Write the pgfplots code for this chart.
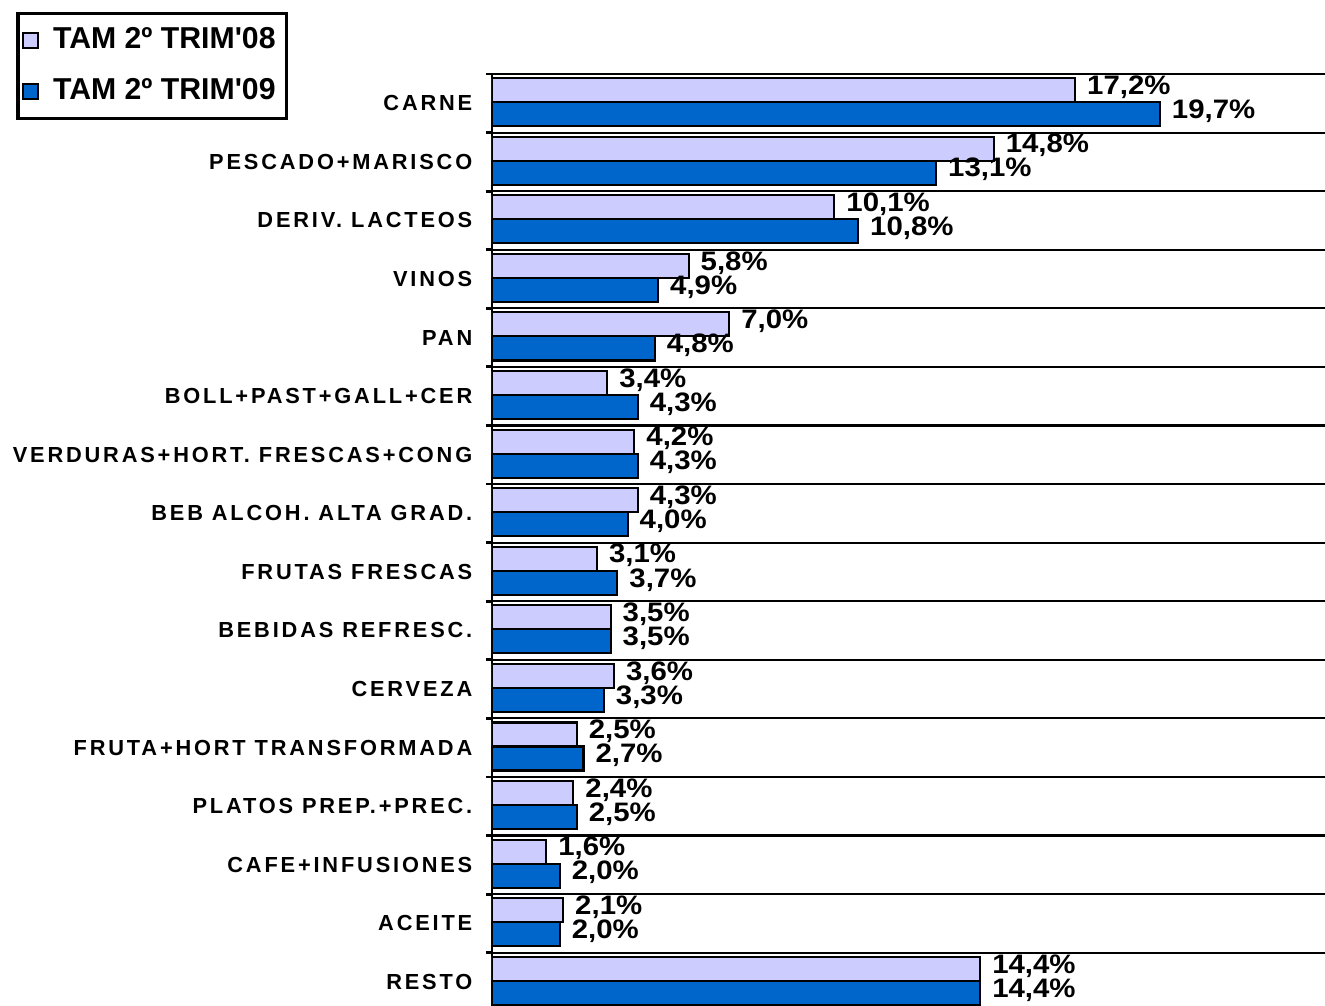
\documentclass[border=0pt]{standalone}
\usepackage{fontspec}
\setmainfont{Liberation Sans}
\newfontfamily\catfont[LetterSpace=13]{Liberation Sans}
\newfontfamily\valfont[FakeStretch=1.1]{Liberation Sans}
\usepackage{pgfplots}
\usepackage{pgfplotstable}
\pgfplotsset{compat=1.18}
\usetikzlibrary{calc}

\definecolor{lav}{HTML}{CCCCFF}
\definecolor{azul}{HTML}{0066CC}

% TAM 2º trim: share of spend per category
\pgfplotstableread{
v08  v09
17.2 19.7
14.8 13.1
10.1 10.8
5.8  4.9
7.0  4.8
3.4  4.3
4.2  4.3
4.3  4.0
3.1  3.7
3.5  3.5
3.6  3.3
2.5  2.7
2.4  2.5
1.6  2.0
2.1  2.0
14.4 14.4
}\datos

\begin{document}
\begin{tikzpicture}
\begin{axis}[
    name=ax,
    scale only axis,
    width=8.33cm, height=9.32cm,
    xbar,
    bar width=0.41,
    xmin=0, xmax=24.57,
    ymin=-0.5, ymax=15.41,
    y dir=reverse,
    axis x line=none,
    axis y line*=left,
    axis line style={-, line width=0.8pt},
    ytick={0,...,15},
    yticklabels={CARNE, PESCADO+MARISCO, DERIV. LACTEOS, VINOS, PAN,
        BOLL+PAST+GALL+CER, VERDURAS+HORT. FRESCAS+CONG, BEB ALCOH. ALTA GRAD.,
        FRUTAS FRESCAS, BEBIDAS REFRESC., CERVEZA, FRUTA+HORT TRANSFORMADA,
        PLATOS PREP.+PREC., CAFE+INFUSIONES, ACEITE, RESTO},
    minor ytick={-0.5,0.5,...,14.5},
    yminorgrids=true,
    minor grid style={black, line width=0.6pt},
    major tick length=0pt,
    minor tick length=0.06cm,
    tick align=outside,
    tick style={black, line width=0.8pt},
    yticklabel style={font=\catfont\bfseries\fontsize{6.2}{7}\selectfont,
        inner sep=0pt, xshift=-0.19cm},
    point meta=x,
    nodes near coords={\pgfmathprintnumber[fixed, fixed zerofill, precision=1,
        use comma, assume math mode=true]{\pgfplotspointmeta}\%},
    every node near coord/.append style={font=\valfont\bfseries\fontsize{7.6}{8}\selectfont,
        anchor=west, inner sep=0pt, xshift=0.11cm, yshift=0.03cm, text=black},
    legend style={at={(-0.571,1.0665)}, anchor=north west, draw=black,
        line width=0.9pt, font=\bfseries\fontsize{8.6}{10}\selectfont,
        row sep=0.1cm, inner xsep=0.04cm, inner ysep=0.07cm,
        /tikz/every odd column/.append style={column sep=0.07cm}},
    legend cell align=left,
    legend image code/.code={\draw[#1, line width=0.6pt] (0cm,-0.075cm) rectangle (0.15cm,0.075cm);},
]
\addplot[fill=lav, draw=black, line width=0.6pt, bar shift=-0.225]
    table[x=v08, y expr=\coordindex]{\datos};
\addlegendentry{TAM 2º TRIM\textquotesingle 08}
\addplot[fill=azul, draw=black, line width=0.6pt, bar shift=0.185]
    table[x=v09, y expr=\coordindex]{\datos};
\addlegendentry{TAM 2º TRIM\textquotesingle 09}
\coordinate (bl) at (axis description cs:0,0);
\coordinate (tr) at (axis description cs:1,1);
\end{axis}
\pgfresetboundingbox
\path ($(bl)+(-4.92cm,0)$) rectangle ($(tr)+(0,0.74cm)$);
\end{tikzpicture}
\end{document}
